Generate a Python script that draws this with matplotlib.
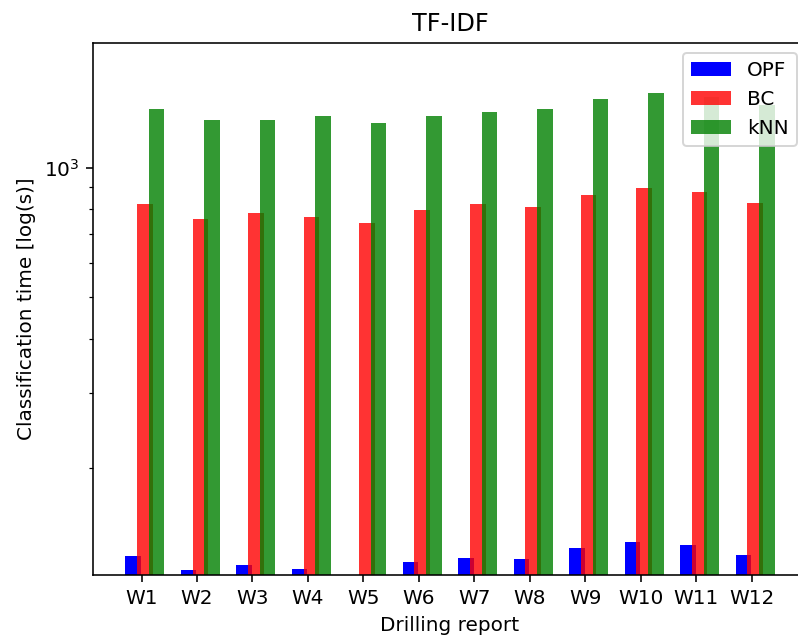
import numpy as np
from matplotlib import pyplot as plt

# relatorios de perfuracao
relatorios = ['W1', 'W2', 'W3', 'W4', 'W5', 'W6', 'W7', 'W8', 'W9', 'W10', 'W11', 'W12']

# tempos de classificacao (s)
opf = [125, 115.8, 119.5, 117, 110, 121.2, 123.9, 123.1, 130.6, 134.8, 132.6, 126]
bc = [823, 762, 786, 768, 745, 797, 823, 810, 864, 897, 876, 829]
knn = [1369, 1288, 1288, 1319, 1270, 1319, 1350, 1369, 1445, 1492, 1463, 1401]

indice = np.arange(len(relatorios))
largura = 0.28

fig = plt.figure(figsize=(798/144, 641/144), dpi=144)
ax = fig.add_axes([93/798, 66/641, 714/798, 532/641])

ax.bar(indice - 0.15, opf, largura, color='b', label='OPF')
ax.bar(indice + 0.06, bc, largura, color='r', alpha=0.8, label='BC')
ax.bar(indice + 0.27, knn, largura, color='g', alpha=0.8, label='kNN')

ax.set_yscale('log')
ax.set_ylim(113, 1950)
ax.set_xticks(indice)
ax.set_xticklabels(relatorios)

ax.set_title('TF-IDF')
ax.set_xlabel('Drilling report')
ax.set_ylabel('Classification time [log(s)]')
ax.legend(loc='upper right')

fig.savefig('out.png', dpi=144)
